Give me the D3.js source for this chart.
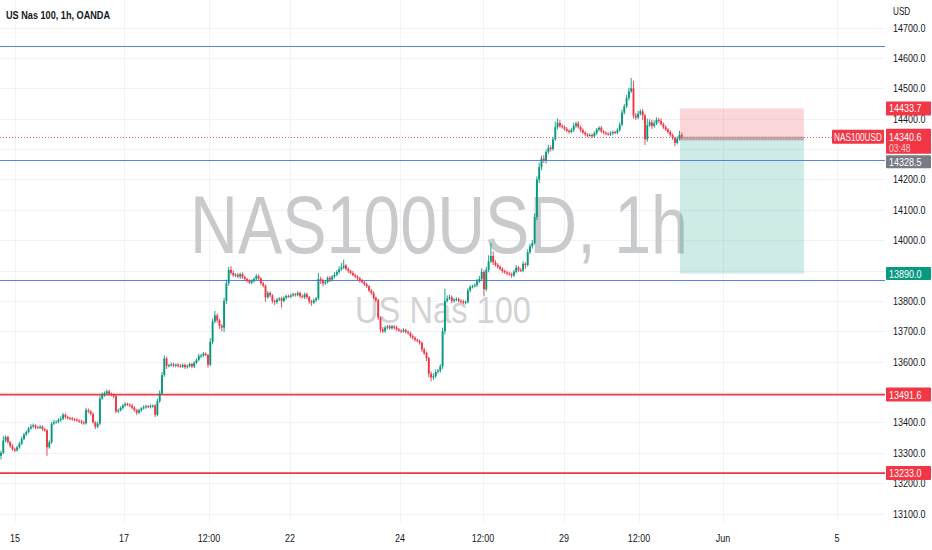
<!DOCTYPE html>
<html>
<head>
<meta charset="utf-8">
<script src="https://cdn.jsdelivr.net/npm/d3@7"></script>
<style>
  html, body { margin: 0; padding: 0; background: #ffffff; }
  svg { display: block; font-family: "Liberation Sans", Arial, sans-serif; }
</style>
</head>
<body>
<svg id="chart" width="932" height="550"></svg>
<script>
// ---------------- DATA ----------------
const title = "US Nas 100, 1h, OANDA";
const symbolWatermark = "NAS100USD, 1h";
const nameWatermark = "US Nas 100";
const firstOpen = 13290;
// hourly closes
const closes = [
  13300,13340,13352,13335,13322,13312,13308,13318,13330,13345,
  13360,13368,13380,13386,13390,13384,13383,13386,13378,13374,
  13318,13335,13396,13400,13402,13408,13412,13425,13418,13414,
  13413,13410,13409,13406,13403,13400,13397,13440,13436,13428,
  13400,13386,13396,13478,13490,13496,13502,13494,13490,13486,
  13436,13440,13448,13456,13461,13458,13455,13448,13440,13432,
  13440,13446,13450,13453,13451,13454,13455,13425,13470,13495,
  13556,13610,13586,13588,13591,13587,13590,13586,13584,13589,
  13582,13585,13592,13584,13596,13606,13618,13620,13626,13622,
  13590,13665,13732,13752,13736,13718,13712,13800,13858,13902,
  13892,13884,13886,13880,13888,13878,13872,13866,13860,13865,
  13872,13882,13874,13858,13850,13812,13826,13818,13800,13796,
  13804,13808,13800,13810,13816,13814,13818,13822,13820,13826,
  13815,13812,13822,13812,13798,13794,13802,13808,13872,13868,
  13858,13862,13876,13870,13880,13886,13895,13904,13910,13916,
  13905,13898,13892,13885,13880,13874,13866,13862,13855,13848,
  13834,13826,13810,13802,13745,13706,13700,13712,13716,13710,
  13716,13712,13706,13702,13700,13704,13698,13694,13684,13678,
  13672,13668,13662,13640,13628,13612,13560,13548,13552,13566,
  13570,13584,13700,13800,13808,13812,13800,13804,13806,13800,
  13798,13794,13796,13834,13846,13848,13852,13864,13872,13895,
  13838,13902,13930,13948,13926,13918,13912,13905,13898,13894,
  13890,13888,13884,13896,13910,13902,13900,13922,13918,13960,
  13980,13990,14076,14200,14240,14268,14262,14290,14304,14300,
  14332,14372,14386,14376,14372,14366,14360,14356,14362,14376,
  14384,14372,14362,14354,14348,14344,14346,14342,14352,14364,
  14370,14358,14354,14350,14348,14352,14356,14354,14362,14380,
  14420,14440,14468,14490,14500,14410,14404,14416,14424,14410,
  14332,14378,14388,14376,14384,14396,14392,14382,14372,14364,
  14356,14346,14336,14320,14334,14346,14340.6
];
// upper wick length above the body (points)
const wickUp = [
  6,15,5,4,4,6,5,5,6,8,
  5,6,5,8,6,4,5,6,4,5,
  4,6,5,8,5,6,8,6,5,4,
  4,5,4,5,4,5,6,8,6,5,
  5,4,6,10,8,6,6,5,4,5,
  4,5,5,4,5,4,5,6,5,4,
  5,4,6,5,4,5,4,5,8,10,
  10,10,6,5,6,5,4,5,6,5,
  5,6,5,4,6,5,8,6,5,4,
  4,12,10,15,6,5,6,10,12,10,
  12,8,5,6,5,6,5,4,5,6,
  5,6,5,4,5,4,6,5,4,5,
  5,4,6,5,4,5,6,5,4,6,
  4,6,5,6,4,5,6,5,20,8,
  5,6,5,6,5,8,6,10,15,20,
  6,5,4,6,5,4,5,6,4,5,
  4,5,6,4,5,4,8,6,5,6,
  5,4,6,5,4,6,5,4,5,6,
  5,4,5,4,6,5,4,8,10,8,
  6,8,12,40,10,8,6,5,6,5,
  5,6,5,8,6,5,6,8,10,12,
  6,10,20,42,15,8,6,5,6,5,
  5,6,5,6,8,5,6,8,5,10,
  8,10,12,10,15,10,12,8,10,8,
  8,18,14,10,6,5,6,5,8,10,
  6,8,5,6,5,4,6,5,6,5,
  5,6,5,4,5,6,5,4,6,8,
  10,8,10,12,34,25,8,10,6,8,
  6,22,10,8,10,8,6,8,5,6,
  5,6,5,4,8,14,8
];
// lower wick length below the body (points)
const wickDn = [
  12,4,6,5,6,5,6,4,5,4,
  4,5,4,4,5,6,4,5,6,5,
  28,5,6,5,4,5,6,5,6,5,
  5,4,5,4,5,6,5,4,6,5,
  4,8,5,5,4,6,5,5,4,6,
  6,5,4,6,5,4,5,6,5,8,
  5,6,4,5,4,5,6,8,5,6,
  5,6,10,5,4,5,6,5,4,5,
  6,5,4,6,5,4,5,6,5,4,
  10,5,8,6,8,10,12,15,10,8,
  6,5,6,5,8,5,6,5,4,5,
  5,4,6,5,6,15,5,6,8,10,
  6,5,22,5,6,4,5,4,6,5,
  5,4,6,5,8,10,5,6,5,12,
  10,6,5,8,5,6,5,6,5,6,
  5,6,5,4,6,5,6,5,6,5,
  5,6,5,6,8,10,6,5,6,5,
  5,6,5,4,6,5,6,5,6,5,
  6,5,6,8,6,10,12,13,8,6,
  5,6,8,10,6,5,8,6,5,6,
  6,5,6,5,6,5,4,6,5,6,
  23,6,8,6,8,5,6,5,6,5,
  6,5,8,6,5,6,5,6,12,5,
  6,8,5,10,12,10,8,10,6,8,
  6,5,8,6,5,6,5,6,5,6,
  6,5,6,5,6,5,4,6,5,6,
  6,5,6,5,4,5,6,5,6,5,
  5,6,5,8,6,10,8,6,5,15,
  19,8,5,10,6,5,6,5,6,5,
  6,5,6,10,5,6,6
];
// time axis: candle-index positions of the labels
const timeTickIndex = [6.1, 53.5, 90.4, 125.7, 173.5, 209.6, 244.8, 277.4, 313.9, 363.5];
const timeTickLabels = ["15", "17", "12:00", "22", "24", "12:00", "29", "12:00", "Jun", "5"];
const priceTicks = [13100,13200,13300,13400,13500,13600,13700,13800,13900,14000,14100,14200,14300,14400,14500,14600,14700];
// drawn levels
const blueLevels = [14639, 14264, 13868];
const redLevels = [13491.6, 13233.0];
// short-position tool
const posEntry = 14328.5, posStop = 14433.7, posTarget = 13890.0;
const posStartIndex = 295.2, posEndIndex = 349.1;
const lastPrice = 14340.6, countdown = "03:48";
const symbolLabel = "NAS100USD";

// ---------------- LAYOUT ----------------
const plotRight = 885, plotBottom = 522;
const GREEN = "#089981", RED = "#f23645", TXT = "#131722";
const svg = d3.select("#chart");

const x = d3.scaleLinear().domain([0, 384.35]).range([1, plotRight]);
const y = d3.scaleLinear().domain([13100, 14700]).range([513.5, 27.5]);

const candles = closes.map((c, i) => {
  const o = i === 0 ? firstOpen : closes[i - 1];
  return { i, o, c, h: Math.max(o, c) + wickUp[i], l: Math.min(o, c) - wickDn[i] };
});

function sqText(g, px, py, s, size, opts = {}) {
  const sx = opts.sx || 0.78;
  return g.append("text")
    .attr("transform", `translate(${px},${py}) scale(${sx},1)`)
    .attr("text-anchor", opts.anchor || "start")
    .attr("font-size", size)
    .attr("font-weight", opts.weight || 400)
    .attr("fill", opts.fill || TXT)
    .text(s);
}

// grid
const grid = svg.append("g");
grid.selectAll(".hg").data(priceTicks).join("line")
  .attr("x1", 0).attr("x2", plotRight)
  .attr("y1", d => Math.round(y(d)) + 0.5).attr("y2", d => Math.round(y(d)) + 0.5)
  .attr("stroke", "#f0f3fa").attr("stroke-width", 1);
grid.selectAll(".vg").data(timeTickIndex).join("line")
  .attr("x1", d => Math.round(x(d)) + 0.5).attr("x2", d => Math.round(x(d)) + 0.5)
  .attr("y1", 0).attr("y2", plotBottom)
  .attr("stroke", "#f0f3fa").attr("stroke-width", 1);

// watermarks
svg.append("text").attr("x", 190).attr("y", 253)
  .attr("font-size", 81).attr("fill", "#c9cacc")
  .attr("textLength", 498).attr("lengthAdjust", "spacingAndGlyphs")
  .text(symbolWatermark);
svg.append("text").attr("x", 355).attr("y", 323)
  .attr("font-size", 36).attr("fill", "#d2d3d5")
  .attr("textLength", 176).attr("lengthAdjust", "spacingAndGlyphs")
  .text(nameWatermark);

// position tool
const px0 = x(posStartIndex), px1 = x(posEndIndex);
svg.append("rect").attr("x", px0).attr("width", px1 - px0)
  .attr("y", y(posStop)).attr("height", y(posEntry) - y(posStop))
  .attr("fill", "rgba(242,54,69,0.2)");
svg.append("rect").attr("x", px0).attr("width", px1 - px0)
  .attr("y", y(posEntry)).attr("height", y(posTarget) - y(posEntry))
  .attr("fill", "rgba(8,153,129,0.2)");
svg.append("rect").attr("x", px0).attr("width", px1 - px0)
  .attr("y", y(lastPrice)).attr("height", y(posEntry) - y(lastPrice))
  .attr("fill", "rgba(120,123,134,0.5)");

// horizontal levels
svg.selectAll(".bl").data(blueLevels).join("line")
  .attr("x1", 0).attr("x2", plotRight)
  .attr("y1", d => Math.round(y(d)) + 0.5).attr("y2", d => Math.round(y(d)) + 0.5)
  .attr("stroke", "#5a80ee").attr("stroke-width", 1.1);
svg.selectAll(".rl").data(redLevels).join("line")
  .attr("x1", 0).attr("x2", plotRight)
  .attr("y1", d => y(d)).attr("y2", d => y(d))
  .attr("stroke", RED).attr("stroke-width", 1.8);

// last price dotted line
svg.append("line").attr("x1", 0).attr("x2", plotRight)
  .attr("y1", Math.round(y(lastPrice)) + 0.5).attr("y2", Math.round(y(lastPrice)) + 0.5)
  .attr("stroke", "#f0606c").attr("stroke-width", 1).attr("stroke-dasharray", "1,2");

// candles
const cg = svg.append("g");
cg.selectAll(".wick").data(candles).join("line")
  .attr("x1", d => x(d.i)).attr("x2", d => x(d.i))
  .attr("y1", d => y(d.h)).attr("y2", d => y(d.l))
  .attr("stroke", d => d.c >= d.o ? GREEN : RED).attr("stroke-width", 0.9);
cg.selectAll(".body").data(candles).join("rect")
  .attr("x", d => x(d.i) - 0.95).attr("width", 1.9)
  .attr("y", d => y(Math.max(d.o, d.c)))
  .attr("height", d => Math.max(1, Math.abs(y(d.o) - y(d.c))))
  .attr("fill", d => d.c >= d.o ? GREEN : RED);

// axis background
svg.append("rect").attr("x", plotRight).attr("y", 0).attr("width", 932 - plotRight).attr("height", 550).attr("fill", "#fff");

// title
svg.append("text").attr("x", 6).attr("y", 19)
  .attr("font-size", 11.5).attr("font-weight", 600).attr("fill", TXT)
  .attr("textLength", 104).attr("lengthAdjust", "spacingAndGlyphs")
  .text(title);

// right axis (ticks fully covered by price tags are not drawn, as in the reference)
const hiddenTicks = [14300, 13900, 13500];
const ra = svg.append("g");
sqText(ra, 893, 15, "USD", 10.5);
priceTicks.filter(v => !hiddenTicks.includes(v))
  .forEach(v => sqText(ra, 893, y(v) + 4, d3.format(".1f")(v), 11.5));

// bottom axis
timeTickIndex.forEach((t, k) => sqText(svg, x(t), 542, timeTickLabels[k], 11.5, { anchor: "middle" }));

// price tags on the right axis
function priceTag(fill, yc, h) {
  svg.append("rect").attr("x", 886).attr("y", yc - h / 2).attr("width", 45).attr("height", h)
    .attr("rx", 1).attr("fill", fill);
}
priceTag(RED, y(posStop), 14);
sqText(svg, 889, y(posStop) + 4, d3.format(".1f")(posStop), 11.5, { fill: "#fff" });

// current price + countdown
const lp = svg.append("g");
lp.append("rect").attr("x", 886).attr("y", y(lastPrice) - 8).attr("width", 45).attr("height", 25).attr("rx", 1).attr("fill", RED);
sqText(lp, 889, y(lastPrice) + 4, d3.format(".1f")(lastPrice), 11.5, { fill: "#fff" });
sqText(lp, 889, y(lastPrice) + 15, countdown, 11, { fill: "#fbd0d3" });
// symbol tag
lp.append("rect").attr("x", 832).attr("y", y(lastPrice) - 7).attr("width", 52).attr("height", 14).attr("rx", 1).attr("fill", RED);
sqText(lp, 858, y(lastPrice) + 4, symbolLabel, 10.5, { fill: "#fff", anchor: "middle" });

// entry tag (pushed below the current price tag)
priceTag("#787b86", y(lastPrice) + 25, 13);
sqText(svg, 889, y(lastPrice) + 29, d3.format(".1f")(posEntry), 11.5, { fill: "#fff" });

// target tag
priceTag(GREEN, y(posTarget), 13);
sqText(svg, 889, y(posTarget) + 4, d3.format(".1f")(posTarget), 11.5, { fill: "#fff" });

// red level tags
redLevels.forEach(v => {
  priceTag(RED, y(v), 14);
  sqText(svg, 889, y(v) + 4, d3.format(".1f")(v), 11.5, { fill: "#fff" });
});
</script>
</body>
</html>
